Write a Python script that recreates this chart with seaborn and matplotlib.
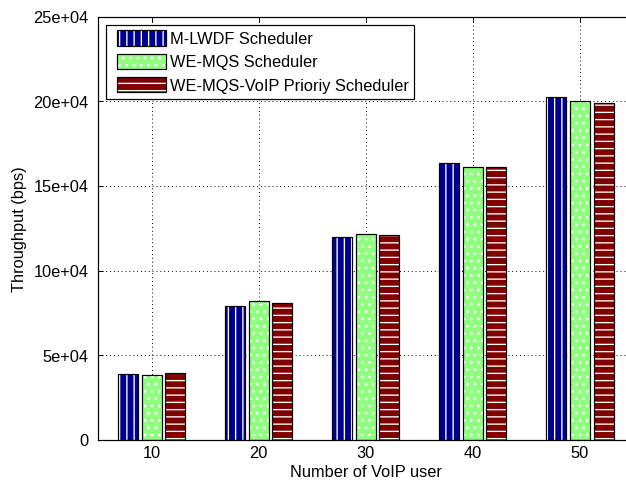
import matplotlib
matplotlib.use("Agg")
import matplotlib.pyplot as plt
import seaborn as sns
import pandas as pd
from matplotlib.patches import Rectangle
from matplotlib.legend_handler import HandlerPatch

# data
users = [10, 20, 30, 40, 50]
schedulers = ["M-LWDF Scheduler", "WE-MQS Scheduler", "WE-MQS-VoIP Prioriy Scheduler"]
mlwdf = [39000, 79200, 120000, 163500, 202500]
wemqs = [38500, 82000, 121700, 161300, 200000]
wemqs_voip = [39500, 81000, 121000, 161000, 199000]
y_ticks = [0, 50000, 100000, 150000, 200000, 250000]
y_tick_labels = ["0", "5e+04", "10e+04", "15e+04", "20e+04", "25e+04"]

colors = ["#000090", "#90FF80", "#800000"]
hatches = ["||", "..", "--"]

df = pd.DataFrame({
    "users": users * 3,
    "throughput": mlwdf + wemqs + wemqs_voip,
    "scheduler": [s for s in schedulers for _ in users],
})

sns.set_style("ticks")
plt.rcParams["font.family"] = ["Liberation Sans", "DejaVu Sans"]
plt.rcParams["hatch.linewidth"] = 1.1
for key in ["text.color", "axes.labelcolor", "xtick.color", "ytick.color"]:
    plt.rcParams[key] = "black"

DPI = 87
W, H = 626, 485
# the half pixel keeps int() from rounding the canvas down to 625x484
fig = plt.figure(figsize=((W + 0.5) / DPI, (H + 0.5) / DPI), dpi=DPI,
                 facecolor="white")
# the axes run past the right edge of the picture, as in the reference
ax = fig.add_axes([98 / W, 45 / H, 535 / W, 423 / H])

sns.barplot(data=df, x="users", y="throughput", hue="scheduler",
            hue_order=schedulers, palette=colors, saturation=1,
            width=0.66, gap=0.15, edgecolor="black", linewidth=1.0,
            legend=False, ax=ax)

# white hatching inside black-edged bars
for container, hatch in zip(ax.containers, hatches):
    for p in container.patches:
        p.set_hatch(hatch)
        p._hatch_color = (1.0, 1.0, 1.0, 1.0)

ax.set_xlim(-0.5, 4.5)
ax.set_ylim(0, 250000)
ax.set_yticks(y_ticks)
ax.set_yticklabels(y_tick_labels)
ax.set_xticks(range(len(users)))
ax.set_xticklabels([str(u) for u in users])

ax.set_axisbelow(True)
ax.grid(True, color="black", linestyle=(0, (1, 3)), linewidth=0.8)
for s in ax.spines.values():
    s.set_color("black")
    s.set_linewidth(1.0)
ax.spines["right"].set_visible(False)
ax.tick_params(direction="in", length=4, width=0.8, top=True, right=False,
               colors="black", labelsize=13.5)
ax.tick_params(axis="y", pad=8)
ax.tick_params(axis="x", pad=5)
for lab in ax.get_xticklabels() + ax.get_yticklabels():
    lab.set_family(["Liberation Sans Narrow", "Liberation Sans", "DejaVu Sans"])

ax.set_xlabel("Number of VoIP user", fontsize=13.5, labelpad=3)
ax.set_ylabel("Throughput (bps)", fontsize=13.5, labelpad=5)

handles = [c.patches[0] for c in ax.containers]
leg = ax.legend(handles, schedulers, loc="upper left", fontsize=13.5,
                handler_map={Rectangle: HandlerPatch(xpad=0.3)},
                frameon=True, fancybox=False, edgecolor="black", framealpha=1,
                handlelength=3.3, handleheight=1.05, handletextpad=0.25,
                labelspacing=0.45, borderpad=0.35, borderaxespad=0.5)
leg.get_frame().set_linewidth(1.0)

fig.savefig("out.png", dpi=DPI)
